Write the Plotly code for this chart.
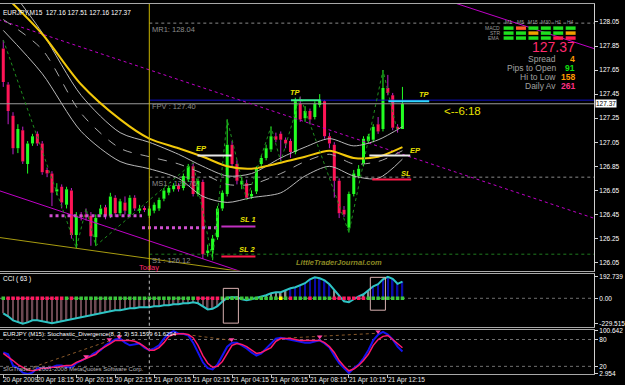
import plotly.graph_objects as go

FONT = "Liberation Sans, Arial, sans-serif"
W, H = 625, 385
ML, MR, MT, MB = 0, 27, 2, 11
PW, PH = W - ML - MR, H - MT - MB


def fx(xp):
    return (xp - ML) / PW


def fy(yp):
    return (H - MB - yp) / PH


# ---------------- data ----------------
title_text = "EURJPY,M15  127.16 127.51 127.16 127.37"
n_bars = 83
bar_idx = list(range(n_bars))
X0, X1 = -0.673, 121.35          # visible bar range (chart shift on the right)

bar_open = [127.83, 127.53, 127.27, 127.00, 127.15, 126.87, 127.04, 127.12, 127.04, 126.82,
            126.79, 126.64, 126.68, 126.53, 126.65, 126.28, 126.44, 126.45, 126.44, 126.26,
            126.45, 126.51, 126.44, 126.59, 126.46, 126.55, 126.45, 126.59, 126.48, 126.50,
            126.44, 126.48, 126.50, 126.58, 126.63, 126.66, 126.69, 126.67, 126.74, 126.85,
            126.62, 126.72, 126.13, 126.15, 126.26, 126.50, 126.62, 127.03, 126.87, 126.70,
            126.71, 126.60, 126.64, 126.87, 126.92, 126.99, 127.10, 127.12, 127.07, 127.06,
            126.97, 127.37, 127.25, 127.31, 127.26, 127.36, 127.39, 127.10, 127.03, 126.73,
            126.49, 126.34, 126.62, 126.77, 126.87, 127.06, 127.07, 127.20, 127.16, 127.50,
            127.44, 127.18, 127.16]
bar_high = [127.90, 127.55, 127.30, 127.20, 127.18, 127.06, 127.12, 127.14, 127.06, 126.84,
            126.81, 126.71, 126.70, 126.68, 126.67, 126.47, 126.47, 126.50, 126.47, 126.45,
            126.53, 126.53, 126.63, 126.61, 126.58, 126.60, 126.61, 126.61, 126.53, 126.52,
            126.52, 126.55, 126.59, 126.67, 126.69, 126.71, 126.71, 126.79, 126.87, 126.88,
            126.75, 126.74, 126.20, 126.28, 126.52, 126.65, 127.24, 127.06, 126.90, 126.76,
            126.74, 126.65, 126.85, 126.94, 127.03, 127.18, 127.13, 127.14, 127.09, 127.08,
            127.42, 127.43, 127.35, 127.33, 127.39, 127.45, 127.40, 127.13, 127.05, 126.75,
            126.52, 126.64, 126.82, 126.86, 127.10, 127.12, 127.20, 127.26, 127.65, 127.61,
            127.46, 127.20, 127.51]
bar_low = [127.51, 127.20, 126.95, 126.96, 126.87, 126.79, 127.02, 127.02, 126.78, 126.76,
           126.52, 126.61, 126.50, 126.50, 126.25, 126.17, 126.40, 126.40, 126.19, 126.19,
           126.43, 126.41, 126.42, 126.43, 126.44, 126.45, 126.43, 126.48, 126.46, 126.47,
           126.42, 126.46, 126.48, 126.56, 126.61, 126.64, 126.64, 126.65, 126.72, 126.60,
           126.60, 126.08, 126.10, 126.07, 126.24, 126.48, 126.60, 126.84, 126.70, 126.66,
           126.57, 126.58, 126.62, 126.85, 126.90, 126.97, 127.05, 126.89, 127.00, 126.92,
           126.95, 127.22, 127.22, 127.20, 127.24, 127.34, 127.08, 127.00, 126.59, 126.42,
           126.43, 126.30, 126.60, 126.75, 126.85, 127.04, 127.05, 127.12, 127.14, 127.44,
           127.15, 127.13, 127.16]
bar_close = [127.55, 127.31, 127.00, 127.16, 126.89, 127.04, 127.10, 127.04, 126.80, 126.79,
             126.63, 126.66, 126.55, 126.66, 126.28, 126.44, 126.43, 126.43, 126.27, 126.42,
             126.50, 126.44, 126.60, 126.46, 126.56, 126.48, 126.59, 126.50, 126.50, 126.49,
             126.50, 126.53, 126.57, 126.65, 126.67, 126.69, 126.66, 126.77, 126.85, 126.62,
             126.73, 126.12, 126.15, 126.25, 126.50, 126.63, 127.03, 126.87, 126.73, 126.73,
             126.59, 126.62, 126.83, 126.92, 127.00, 127.10, 127.07, 127.07, 127.04, 126.97,
             127.39, 127.24, 127.31, 127.24, 127.37, 127.40, 127.10, 127.04, 126.73, 126.46,
             126.45, 126.62, 126.79, 126.83, 127.08, 127.10, 127.18, 127.14, 127.50, 127.46,
             127.17, 127.16, 127.37]
bid_price = 127.37

# moving average / band readings at sampled bars
ma_idx = [0, 8, 16, 24, 30, 36, 41, 46, 51, 57, 62, 67, 72, 77, 82]
ma_slow = [128.28, 127.95, 127.53, 127.24, 127.08, 127.00, 126.93, 126.85, 126.83, 126.88,
           126.93, 126.98, 126.92, 126.93, 127.01]
band_up = [128.40, 127.96, 127.44, 127.13, 127.05, 126.95, 126.85, 126.77, 126.79, 126.92,
           127.01, 127.08, 127.02, 127.07, 127.18]
band_mid = [128.07, 127.82, 127.29, 127.00, 126.93, 126.87, 126.79, 126.70, 126.70, 126.79,
            126.89, 126.95, 126.87, 126.89, 126.98]
band_lo = [127.98, 127.62, 127.14, 126.89, 126.83, 126.75, 126.60, 126.55, 126.59, 126.63,
           126.77, 126.85, 126.77, 126.75, 126.91]

# zigzag swing points
zz_idx = [0, 15, 17, 19, 39, 43, 46, 50, 55, 57, 61, 71, 78, 81]
zz_price = [127.90, 126.17, 126.50, 126.19, 126.88, 126.07, 127.24, 126.57, 127.18, 126.89,
            127.43, 126.30, 127.65, 127.13]

# trend lines (two anchor points each)
trend_dot_idx, trend_dot_price = [-1, 122], [128.07, 126.41]
trend_up_idx, trend_up_price = [85, 122], [128.31, 127.82]
trend_lo_idx, trend_lo_price = [-1, 50], [126.65, 125.96]
trend_olive_idx, trend_olive_price = [-1, 50], [126.26, 125.97]

# daily pivot levels (drawn from day start)
day_start = 30
pivot_names = ["MR1: 128.04", "FPV : 127.40", "MS1 : 126.76", "S1 : 126.12"]
pivot_levels = [128.04, 127.40, 126.76, 126.12]

# support zones (hatched)
zone_x0 = [9.5, 28.5]
zone_x1 = [28.5, 44.2]
zone_price = [126.44, 126.34]

# trade levels
trade_names = ["TP", "TP", "EP", "EP", "SL 1", "SL 2", "SL"]
trade_x0 = [59.1, 79.1, 39.9, 75.2, 44.8, 44.8, 75.8]
trade_x1 = [65.2, 87.5, 46.9, 83.6, 51.8, 51.8, 83.8]
trade_price = [127.40, 127.39, 126.94, 126.94, 126.35, 126.10, 126.74]
trade_color = ["#3cf08c", "#30d8ff", "#e8e8e8", "#e8e8e8", "#c030c0", "#ff1a4a", "#ff1a4a"]
trade_lab_x = [60.1, 86.5, 40.7, 84.6, 50.3, 50.1, 82.8]
trade_lab_p = [127.46, 127.45, 127.00, 126.98, 126.41, 126.16, 126.79]

# CCI(63)
cci = [-135, -162, -198, -216, -229, -216, -198, -198, -207, -216,
       -225, -216, -207, -198, -189, -180, -171, -162, -153, -144,
       -135, -126, -117, -108, -108, -99, -90, -90, -81, -81,
       -81, -72, -72, -63, -63, -54, -54, -45, -45, -36,
       -45, -72, -100, -95, -70, -30, 5, 9, 9, -9,
       -18, -9, 3, 9, 27, 45, 54, 54, 72, 90,
       99, 117, 135, 170, 188, 180, 160, 126, 72, 18,
       -27, -36, -9, 18, 36, 72, 108, 126, 170, 192.7,
       175, 130, 150]
cci_dot = ("g" "pppppppppppp" "g" "p" "ggggggggggggggggggggggggg" "ppppp"
           "gggggggggggg" "y" "g" "p" "ggg" "p" "gggg" "ppppppp" "gggggggg")
cci_box_x0, cci_box_x1 = [45.2, 75.4], [48.3, 78.5]
cci_box_y0, cci_box_y1 = [-223, -107], [89, 188]

# Stochastic(8,3,3)
stoch_main = [51, 47, 22, 16, 6, 3, 6, 16, 16, 16,
              18, 22, 22, 18, 18, 27, 33, 38, 44, 51,
              56, 67, 73, 80, 82, 73, 67, 69, 71, 62,
              56, 60, 67, 82, 93, 99, 93, 93, 89, 73,
              51, 29, 16, 13, 24, 44, 64, 73, 73, 67,
              60, 51, 44, 49, 60, 71, 82, 84, 82, 80,
              78, 76, 73, 73, 76, 78, 71, 62, 44, 27,
              16, 5, 16, 24, 38, 56, 78, 91, 97, 91,
              80, 64, 53.16]
stoch_sig = [49, 42, 33, 24, 18, 12, 10, 12, 16, 16,
             18, 18, 20, 22, 22, 29, 33, 38, 42, 47,
             58, 64, 71, 78, 78, 78, 78, 76, 71, 64,
             56, 56, 62, 73, 87, 91, 93, 93, 91, 84,
             67, 44, 27, 18, 20, 31, 49, 67, 71, 69,
             64, 56, 49, 51, 56, 62, 76, 82, 82, 82,
             80, 78, 78, 78, 78, 78, 73, 64, 51, 33,
             20, 10, 14, 22, 33, 47, 67, 80, 87, 89,
             80, 71, 61.63]
div_x0, div_y0 = [5, 17, 34, 56], [14, 40, 96, 82]
div_x1, div_y1 = [22, 24, 47, 77], [78, 84, 78, 94]
arrow_idx = [17, 21.8, 23.8, 46.9, 65, 77]
arrow_val = [42, 80, 86, 80, 86, 98]

# time axis
tick_idx = [0, 7, 15, 23, 31, 39, 47, 55, 63, 71, 79]
tick_text = ["20 Apr 2009", "20 Apr 18:15", "20 Apr 20:15", "20 Apr 22:15", "21 Apr 00:15",
             "21 Apr 02:15", "21 Apr 04:15", "21 Apr 06:15", "21 Apr 08:15", "21 Apr 10:15",
             "21 Apr 12:15"]
price_ticks = [128.05, 127.85, 127.65, 127.45, 127.25, 127.05, 126.85, 126.65, 126.45, 126.25, 126.05]

# info panel
tf_names = ["M1", "M5", "M15", "M30", "H1", "H4"]
ind_names = ["MACD", "STR", "EMA"]
ind_state = [["g", "r", "g", "g", "g", "g"],
             ["g", "g", "o", "g", "g", "o"],
             ["g", "g", "g", "g", "x", "x"]]
info_labels = ["Spread", "Pips to Open", "Hi to Low", "Daily Av"]
info_values = ["4", "91", "158", "261"]
info_colors = ["#ff9a00", "#10e010", "#ff9a00", "#ff2f85"]

# ---------------- colours ----------------
BULL, BEAR, BEAR_WICK = "#22ff22", "#ff1456", "#c020c8"
MAG = "#c000c8"

fig = go.Figure()


def seg(xs, ys0, ys1):
    X, Y = [], []
    for x, a, b in zip(xs, ys0, ys1):
        X += [x, x, None]
        Y += [a, b, None]
    return X, Y


# ---------- main panel ----------
bull = [i for i in bar_idx if bar_close[i] >= bar_open[i]]
bear = [i for i in bar_idx if bar_close[i] < bar_open[i]]
for grp, col, wcol in ((bull, BULL, BULL), (bear, BEAR, BEAR_WICK)):
    top = [max(bar_open[i], bar_close[i]) for i in grp]
    bot = [min(bar_open[i], bar_close[i]) for i in grp]
    xs, ys = seg(grp + grp, [bar_high[i] for i in grp] + [bar_low[i] for i in grp], top + bot)
    fig.add_trace(go.Scatter(x=xs, y=ys, mode="lines", line=dict(color=wcol, width=1),
                             hoverinfo="skip", xaxis="x", yaxis="y"))
    fig.add_trace(go.Bar(x=grp, y=[max(t - b, 0.008) for t, b in zip(top, bot)], base=bot,
                         width=0.62, marker=dict(color=col, line=dict(width=0)),
                         xaxis="x", yaxis="y"))

# bid line and pivots
fig.add_trace(go.Scatter(x=[X0, X1], y=[bid_price, bid_price], mode="lines",
                         line=dict(color="#9a9a9a", width=1), xaxis="x", yaxis="y"))
piv_style = [dict(color="#8a8a8a", width=1, dash="dot"), dict(color="#1010c8", width=1),
             dict(color="#8a8a8a", width=1, dash="dot"), dict(color="#1f7a1f", width=1, dash="dot")]
for lvl, st in zip(pivot_levels, piv_style):
    fig.add_trace(go.Scatter(x=[day_start, X1], y=[lvl, lvl], mode="lines", line=st,
                             xaxis="x", yaxis="y"))

# trend lines
for xs, ys, st in ((trend_dot_idx, trend_dot_price, dict(color=MAG, width=1, dash="dot")),
                   (trend_up_idx, trend_up_price, dict(color=MAG, width=1)),
                   (trend_lo_idx, trend_lo_price, dict(color=MAG, width=1)),
                   (trend_olive_idx, trend_olive_price, dict(color="#a89c10", width=1))):
    fig.add_trace(go.Scatter(x=xs, y=ys, mode="lines", line=st, xaxis="x", yaxis="y"))

# zones
for a, b, p in zip(zone_x0, zone_x1, zone_price):
    fig.add_trace(go.Scatter(x=[a, b], y=[p, p], mode="lines",
                             line=dict(color="#d050d0", width=3, dash="dot"), xaxis="x", yaxis="y"))

# bands and MA
for vals, st in ((band_up, dict(color="#b8b8b8", width=1)),
                 (band_mid, dict(color="#a8a8a8", width=1, dash="dash")),
                 (band_lo, dict(color="#b8b8b8", width=1)),
                 (ma_slow, dict(color="#f2c80a", width=2))):
    fig.add_trace(go.Scatter(x=ma_idx, y=vals, mode="lines",
                             line=dict(shape="spline", smoothing=0.8, **st),
                             xaxis="x", yaxis="y"))

# zigzag
fig.add_trace(go.Scatter(x=zz_idx, y=zz_price, mode="lines",
                         line=dict(color="#1f8f1f", width=1, dash="dot"), xaxis="x", yaxis="y"))

# trade levels
for a, b, p, c in zip(trade_x0, trade_x1, trade_price, trade_color):
    fig.add_trace(go.Scatter(x=[a, b], y=[p, p], mode="lines", line=dict(color=c, width=2),
                             xaxis="x", yaxis="y"))

# day separator
fig.add_trace(go.Scatter(x=[day_start, day_start], y=[125.9, 128.3], mode="lines",
                         line=dict(color="#c8b400", width=1), xaxis="x", yaxis="y"))

# ---------- CCI panel ----------
hist_col = ["#0a0aa8" if v >= 80 else ("#8c8c8c" if v >= 0 else "#6c4852") for v in cci]
fig.add_trace(go.Bar(x=bar_idx, y=cci, width=0.32, marker=dict(color=hist_col, line=dict(width=0)),
                     xaxis="x2", yaxis="y2"))
fig.add_trace(go.Scatter(x=[X0, X1], y=[0, 0], mode="lines",
                         line=dict(color="#707070", width=1, dash="dot"), xaxis="x2", yaxis="y2"))
fig.add_trace(go.Scatter(x=bar_idx, y=cci, mode="lines", line=dict(color="#2ec4c4", width=2),
                         xaxis="x2", yaxis="y2"))
dot_map = {"g": "#3cc83c", "p": "#ff1a60", "y": "#ffff00"}
fig.add_trace(go.Scatter(x=bar_idx, y=[0] * n_bars, mode="markers",
                         marker=dict(symbol="square", size=3.5, color=[dot_map[c] for c in cci_dot]),
                         xaxis="x2", yaxis="y2"))
fig.add_trace(go.Scatter(x=[day_start, day_start], y=[-300, 300], mode="lines",
                         line=dict(color="#c0c0c0", width=1, dash="dot"), xaxis="x2", yaxis="y2"))

# ---------- Stochastic panel ----------
for lvl in (80, 20):
    fig.add_trace(go.Scatter(x=[X0, X1], y=[lvl, lvl], mode="lines",
                             line=dict(color="#707070", width=1, dash="dot"), xaxis="x3", yaxis="y3"))
fig.add_trace(go.Scatter(x=[day_start, day_start], y=[0, 110], mode="lines",
                         line=dict(color="#c0c0c0", width=1, dash="dot"), xaxis="x3", yaxis="y3"))
for a, b, c, d in zip(div_x0, div_y0, div_x1, div_y1):
    fig.add_trace(go.Scatter(x=[a, c], y=[b, d], mode="lines",
                             line=dict(color="#8a5a2a", width=1, dash="dot"), xaxis="x3", yaxis="y3"))
fig.add_trace(go.Scatter(x=bar_idx, y=stoch_main, mode="lines", line=dict(color="#1414f0", width=2),
                         xaxis="x3", yaxis="y3"))
fig.add_trace(go.Scatter(x=bar_idx, y=stoch_sig, mode="lines", line=dict(color="#ff1a6a", width=1.5),
                         xaxis="x3", yaxis="y3"))
fig.add_trace(go.Scatter(x=arrow_idx, y=arrow_val, mode="markers",
                         marker=dict(symbol="triangle-down", size=5, color="#ff40a0"),
                         xaxis="x3", yaxis="y3"))

# ---------- shapes ----------
shapes = []
for a, b, c, d in zip(cci_box_x0, cci_box_x1, cci_box_y0, cci_box_y1):
    shapes.append(dict(type="rect", xref="x2", yref="y2", x0=a, x1=b, y0=c, y1=d,
                       line=dict(color="#d8b0b0", width=1)))
blk_col = {"g": "#1ee01e", "r": "#ff5a28", "o": "#f0a000", "x": "#ff1a50"}
col_left = [507, 519.5, 532, 544.5, 557, 569.5]
row_top = [24.5, 29.5, 34.5]
for r, row in enumerate(ind_state):
    for c, st in enumerate(row):
        shapes.append(dict(type="rect", xref="paper", yref="paper",
                           x0=fx(col_left[c]), x1=fx(col_left[c] + 10),
                           y0=fy(row_top[r] + 3.5), y1=fy(row_top[r]),
                           fillcolor=blk_col[st], line=dict(width=0)))

# ---------- annotations ----------
ann = []


def txt(text, x, y, color, size, xref="paper", yref="paper", xanchor="left", yanchor="middle",
        family=FONT, **kw):
    ann.append(dict(text=text, x=x, y=y, xref=xref, yref=yref, xanchor=xanchor, yanchor=yanchor,
                    showarrow=False, font=dict(color=color, size=size, family=family), **kw))


txt(title_text, fx(1), fy(11), "#ffffff", 6.5)
txt("CCI ( 63 )", fx(1), fy(278), "#ffffff", 6.5)
txt("EURJPY (M15): Stochastic_Divergence(8, 3, 3) 53.1599 61.6294", fx(1), fy(334), "#ffffff", 6)
txt("SIGTrader \u00a9 2001-2008 MetaQuotes Software Corp.", fx(1), fy(369), "#b8b8b8", 6)
for t, i in zip(tick_text, tick_idx):
    txt(t, i, fy(380), "#e8e8e8", 6.5, xref="x3", xshift=-2)
for name, lvl in zip(pivot_names, pivot_levels):
    txt(name, day_start, lvl, "#8c8c8c", 7.5, xref="x", yref="y", yanchor="top", xshift=1)
for name, x, p in zip(trade_names, trade_lab_x, trade_lab_p):
    txt("<b><i>" + name + "</i></b>", x, p, "#e8e000", 7.5, xref="x", yref="y", xanchor="center")
txt("<--6:18", 90.1, 127.31, "#e8e000", 11.5, xref="x", yref="y")
txt("Today", day_start, fy(267), "#ff2a6d", 7.5, xref="x", xanchor="center")
txt("<b><i>LittleTraderJournal.com</i></b>", 59.8, fy(262), "#8c8a24", 7.5, xref="x")
txt(f"{bid_price:.2f}", 1.0, bid_price, "#000000", 6.5, yref="y", xshift=1,
    bgcolor="#ffffff", borderpad=0)
# info panel
for c, n in enumerate(tf_names):
    txt(n, fx(col_left[c] + 5), fy(20), "#9a9a9a", 5, xanchor="center")
for r, n in enumerate(ind_names):
    txt(n, fx(505), fy(row_top[r] + 1.8), "#9a9a9a", 5, xanchor="right")
txt(f"{bid_price:.2f}", fx(581), fy(45), "#ff2a6d", 14, xanchor="right")
for k, (lab, val, col) in enumerate(zip(info_labels, info_values, info_colors)):
    yy = fy(57 + 9 * k)
    txt(lab, fx(562), yy, "#a0a0a0", 8.5, xanchor="right")
    txt("<b>" + val + "</b>", fx(581), yy, col, 8.5, xanchor="right")

axis_font = dict(color="#ffffff", size=6.5, family=FONT)
xcommon = dict(range=[X0, X1], showgrid=False, zeroline=False, showline=True, mirror=True,
               linecolor="#a8a8a8", linewidth=1, fixedrange=True)
ycommon = dict(side="right", showgrid=False, zeroline=False, showline=True, linecolor="#d0d0d0",
               ticks="outside", ticklen=3, tickcolor="#d0d0d0", tickfont=axis_font)

fig.update_layout(
    width=W, height=H, margin=dict(l=ML, r=MR, t=MT, b=MB),
    paper_bgcolor="#000000", plot_bgcolor="#000000", showlegend=False,
    barmode="overlay", hovermode=False,
    xaxis=dict(anchor="y", showticklabels=False, **xcommon),
    xaxis2=dict(anchor="y2", matches="x", showticklabels=False, **xcommon),
    xaxis3=dict(anchor="y3", matches="x", showticklabels=False, ticks="outside", ticklen=3,
                tickcolor="#c0c0c0", tickvals=tick_idx, **xcommon),
    yaxis=dict(domain=[fy(270), fy(2)], range=[125.984, 128.199], tickvals=price_ticks,
               ticktext=[f"{v:.2f}" for v in price_ticks], **ycommon),
    yaxis2=dict(domain=[fy(327), fy(273)], range=[-260, 222], tickvals=[192.739, 0, -229.515],
                ticktext=["192.739", "0.00", "-229.515"], **ycommon),
    yaxis3=dict(domain=[fy(374), fy(330)], range=[2.9, 100.7], tickvals=[100.642, 80, 20, 2.954],
                ticktext=["100.642", "80", "20", "2.954"], **ycommon),
    shapes=shapes, annotations=ann,
)

fig.write_html("out.html")
